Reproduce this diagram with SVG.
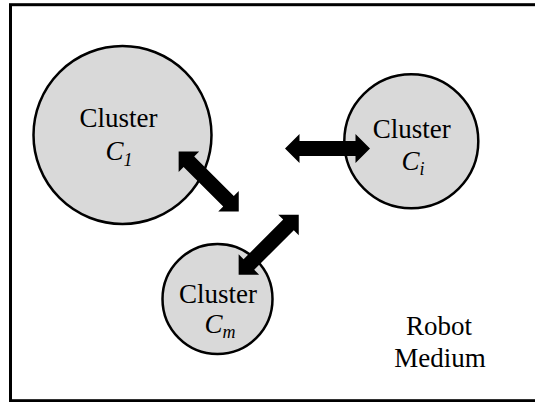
<svg xmlns="http://www.w3.org/2000/svg" xmlns:xlink="http://www.w3.org/1999/xlink" width="535" height="402" viewBox="0 0 535 402">
<style>
.bg{fill:#ffffff}
.frame{fill:none;stroke:#000;stroke-width:3}
.cl{fill:#d9d9d9;stroke:#000;stroke-width:2.5}
text{font-family:"Times New Roman","Liberation Serif","DejaVu Serif",serif;font-size:27px;fill:#000;text-anchor:middle}
.it{font-style:italic}
.sub{font-size:18px}
.arrow{fill:#000}
</style>
<defs>
<path id="dbl" d="M-42.5,0 L-28,-14.5 L-28,-7.5 L28,-7.5 L28,-14.5 L42.5,0 L28,14.5 L28,7.5 L-28,7.5 L-28,14.5 Z"/>
</defs>
<rect class="bg" x="0" y="0" width="535" height="402"/>
<rect class="frame" x="10.5" y="4.7" width="530" height="396"/>
<g id="cluster-c1">
<circle class="cl" cx="122.5" cy="135" r="89"/>
<text x="118.5" y="127">Cluster</text>
<text class="it" x="119" y="160">C<tspan class="sub" dy="6">1</tspan></text>
</g>
<g id="cluster-ci">
<circle class="cl" cx="411.3" cy="141.3" r="67"/>
<text x="411.7" y="137.7">Cluster</text>
<text class="it" x="413" y="170">C<tspan class="sub" dy="5">i</tspan></text>
</g>
<g id="cluster-cm">
<circle class="cl" cx="217.5" cy="299" r="55"/>
<text x="218" y="303.3">Cluster</text>
<text class="it" x="220" y="332.7">C<tspan class="sub" dy="5">m</tspan></text>
</g>
<g id="robot-medium">
<text x="439" y="335">Robot</text>
<text x="440" y="367.3">Medium</text>
</g>
<g id="connectors" class="arrow">
<use xlink:href="#dbl" transform="translate(327.5,148.5)"/>
<use xlink:href="#dbl" transform="translate(208.7,181.5) rotate(45)"/>
<use xlink:href="#dbl" transform="translate(268.7,244.7) rotate(-45)"/>
</g>
</svg>
